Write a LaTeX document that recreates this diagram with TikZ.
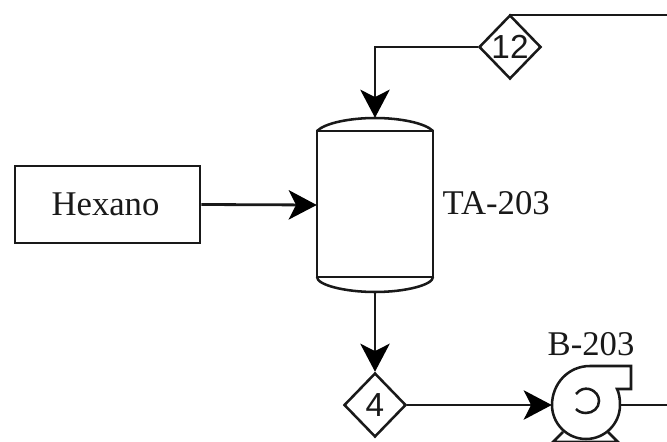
\documentclass[tikz,border=0pt]{standalone}
\usepackage{fontspec}
\setmainfont{Liberation Serif}
\newfontfamily\dsans{Liberation Sans}
\usetikzlibrary{shapes.geometric,arrows.meta}
\tikzset{
  x=0.75pt,y=-0.75pt,
  pipe/.style={line width=2.1pt,black!90},
  flow/.style={pipe,-{Stealth[length=21pt,width=22pt,inset=5.5pt,black]}},
  part/.style={line width=1.9pt,black!90},
  serif/.style={font=\fontsize{26}{30}\selectfont,text=black!90},
  tag/.style={diamond,draw,part,aspect=1,minimum width=46.5pt,minimum height=48pt,inner sep=0pt,font=\dsans\fontsize{25}{29}\selectfont,text=black!90},
  feedbox/.style={draw,part,minimum width=138.75pt,minimum height=57.75pt,inner sep=0pt,serif},
  vessel/.style={minimum width=87pt,minimum height=130.5pt,inner sep=0pt},
  rotor/.style={circle,minimum size=51pt,inner sep=0pt},
}
\begin{document}
\begin{tikzpicture}
\useasboundingbox (0,0) rectangle (667,442);
\node[feedbox] (hex) at (107.5,204.5) {\hspace*{-3pt}Hexano};
\node[vessel] (tank) at (375,205) {};
\node[tag] (d12) at (510,47) {12};
\node[tag] (d4) at (375,405) {4};
\node[rotor] (pump) at (586,405) {};
\coordinate (topout) at (667,15);
\coordinate (pumpout) at (667,405);
% tank
\draw[part] (317,131) rectangle (433,277);
\draw[part] (317,131) .. controls (325,123) and (350,118) .. (375,118) .. controls (400,118) and (425,123) .. (433,131);
\draw[part] (317,277) .. controls (317,285) and (345,292) .. (375,292) .. controls (405,292) and (433,285) .. (433,277);
\node[serif,anchor=west] (tanklabel) at (438,203) {TA-203};
% pump
\draw[part] (563,432) -- (553,442) -- (618,442) -- (608,432);
\draw[part,fill=white] (631,366) -- (590,366) .. controls (568,366) and (552,384) .. (552,405)
  arc[start angle=180,end angle=0,radius=34] .. controls (620,398) and (619,393) .. (617,389) -- (631,389) -- cycle;
\draw[part] (576,394) .. controls (580,389) and (585,388) .. (589,389) .. controls (596,391) and (599,396) .. (599,401) .. controls (599,408) and (593,413) .. (586,413) .. controls (581,413) and (578,411) .. (576,409);
\node[serif] (pumplabel) at (591,344) {B-203};
% connectors
\draw[flow] (hex.east) -- (tank.west);
\draw[flow] (d12.west) -| (tank.north);
\draw[flow] (tank.south) -- (d4.north);
\draw[flow] (d4.east) -- (pump.west);
\draw[pipe] (pump.east) -- (pumpout);
\draw[pipe] (d12.north) -- (d12.north |- topout) -- (topout);
\end{tikzpicture}
\end{document}
